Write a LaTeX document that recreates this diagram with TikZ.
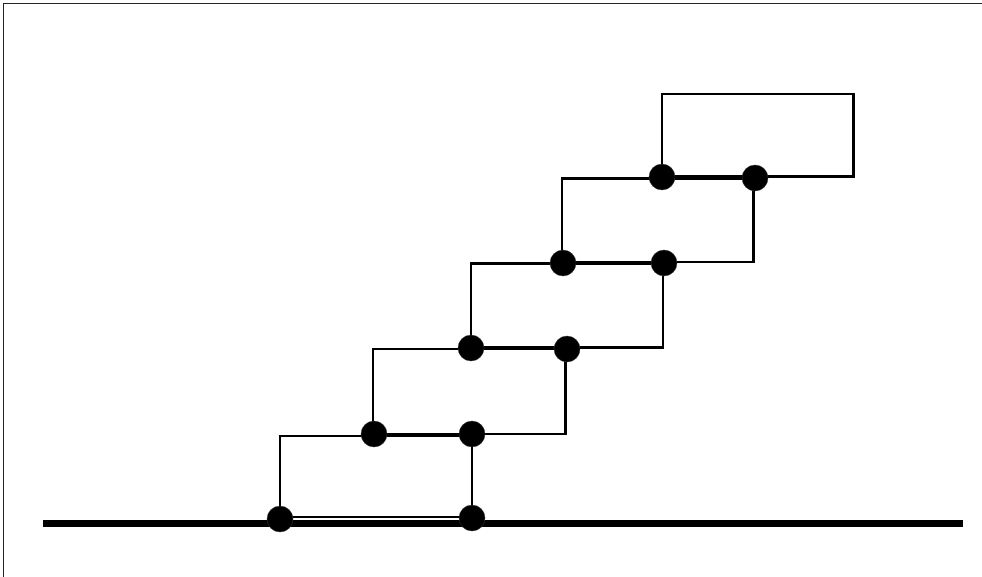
\documentclass[tikz,border=0pt]{standalone}
\begin{document}
\begin{tikzpicture}[x=1pt,y=-1pt,
  frame/.style={line width=1.3pt,draw=black!85},
  ground/.style={line width=7.5pt},
  link/.style={line width=2.6pt,line join=miter},
  joint/.style={circle,fill=black,draw=black!80,line width=0.4pt,inner sep=0pt,minimum size=26pt}]
\useasboundingbox (0,0) rectangle (982,577);
% outer frame (left and top edges)
\draw[frame] (3.6,577) -- (3.6,3.4) -- (982,3.4);
% ground
\coordinate (g0) at (43,523.5);
\coordinate (g1) at (963,523.5);
\draw[ground] (g0) -- (g1);
% stacked links
\draw[link] (280,435.8) rectangle (472,517);
\draw[link] (373,349) rectangle (565.5,433.8);
\draw[link] (471,263.5) rectangle (663,347.2);
\draw[link] (562,178.5) rectangle (753.5,262);
\draw[link] (662,94) rectangle (853.5,176.5);
% joints
\node[joint] (j01) at (280,519) {};
\node[joint] (j02) at (472,518) {};
\node[joint] (j11) at (374,434) {};
\node[joint] (j12) at (472,434) {};
\node[joint] (j21) at (471,348) {};
\node[joint] (j22) at (567,349) {};
\node[joint] (j31) at (563,263) {};
\node[joint] (j32) at (664,263) {};
\node[joint] (j41) at (662,177) {};
\node[joint] (j42) at (755,178) {};
\end{tikzpicture}
\end{document}
